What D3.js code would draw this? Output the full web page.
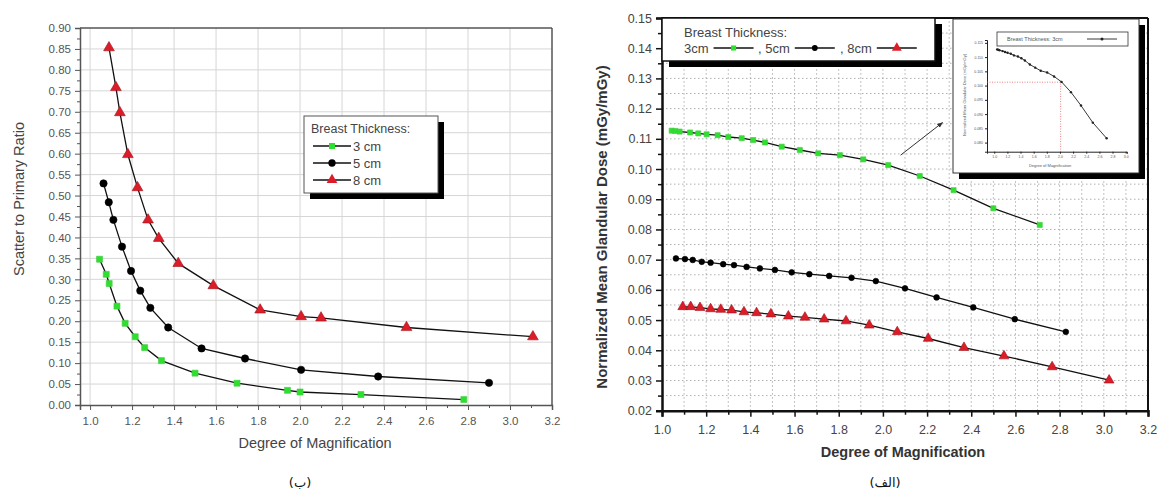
<!DOCTYPE html>
<html>
<head>
<meta charset="utf-8">
<script src="https://cdn.jsdelivr.net/npm/d3@7"></script>
<style>
body { margin: 0; background: #fff; }
svg { display: block; font-family: "Liberation Sans", Arial, sans-serif; }
</style>
</head>
<body>
<div id="chart"></div>
<script>
// ---- panel (ب): scatter to primary ratio vs magnification ----
var spr3cm = [[1.045,0.348],[1.077,0.312],[1.091,0.290],[1.128,0.236],[1.167,0.195],[1.215,0.163],[1.26,0.137],[1.34,0.106],[1.50,0.076],[1.70,0.052],[1.94,0.035],[2.00,0.031],[2.29,0.025],[2.78,0.013]];
var spr5cm = [[1.064,0.529],[1.089,0.484],[1.111,0.442],[1.152,0.378],[1.195,0.320],[1.239,0.273],[1.287,0.232],[1.372,0.185],[1.531,0.135],[1.738,0.111],[2.005,0.084],[2.372,0.068],[2.90,0.053]];
var spr8cm = [[1.09,0.853],[1.123,0.758],[1.142,0.698],[1.18,0.598],[1.226,0.519],[1.276,0.442],[1.327,0.398],[1.42,0.338],[1.587,0.285],[1.81,0.227],[2.005,0.211],[2.10,0.208],[2.507,0.185],[3.109,0.163]];

// ---- panel (الف): normalized mean glandular dose vs magnification ----
var mgd3cm = [[1.044,0.1127],[1.06,0.1126],[1.08,0.1124],[1.127,0.1121],[1.164,0.1118],[1.202,0.1115],[1.252,0.1112],[1.300,0.1106],[1.361,0.1102],[1.413,0.1096],[1.466,0.1088],[1.542,0.1074],[1.624,0.1063],[1.707,0.1052],[1.805,0.1046],[1.911,0.1032],[2.024,0.1013],[2.167,0.0977],[2.32,0.0930],[2.50,0.0870],[2.71,0.0815]];
var mgd5cm = [[1.063,0.0704],[1.104,0.0702],[1.139,0.0699],[1.180,0.0693],[1.220,0.0690],[1.277,0.0685],[1.326,0.0682],[1.383,0.0676],[1.443,0.0671],[1.511,0.0666],[1.587,0.0658],[1.667,0.0652],[1.757,0.0646],[1.858,0.0640],[1.968,0.0629],[2.10,0.0605],[2.243,0.0575],[2.409,0.0542],[2.597,0.0503],[2.828,0.0461]];
var mgd8cm = [[1.094,0.0544],[1.130,0.0544],[1.172,0.0541],[1.220,0.0537],[1.266,0.0535],[1.315,0.0533],[1.371,0.0527],[1.428,0.0524],[1.493,0.0520],[1.572,0.0513],[1.647,0.0509],[1.734,0.0503],[1.833,0.0497],[1.938,0.0483],[2.065,0.0461],[2.205,0.0439],[2.367,0.0409],[2.548,0.0381],[2.766,0.0345],[3.024,0.0301]];

var legendLabelsLeft = ["3 cm", "5 cm", "8 cm"];
var legendLabelsRight = ["3cm", ", 5cm", ", 8cm"];
var seriesColors = ["#2ee02e", "#000000", "#dd1c2a"];
var captions = ["(ب)", "(الف)"];

// knee point marked in the inset, and arrow end points (data units)
var insetKnee = [2.01, 0.1012];
var arrowFromTo = [[2.08, 0.1046], [2.27, 0.1154]];

var width = 1161, height = 495;
var svg = d3.select("#chart").append("svg")
    .attr("width", width)
    .attr("height", height);

var defs = svg.append("defs");
defs.append("marker")
    .attr("id", "arrowhead")
    .attr("viewBox", "0 0 10 10")
    .attr("refX", 9).attr("refY", 5)
    .attr("markerWidth", 6).attr("markerHeight", 6)
    .attr("orient", "auto")
    .append("path")
    .attr("d", "M0,1 L10,5 L0,9 z")
    .attr("fill", "#333");

var symbolTypes = [d3.symbolSquare, d3.symbolCircle, d3.symbolTriangle];

function drawSeries(g, data, x, y, i, sizes) {
    var line = d3.line().x(function(d) { return x(d[0]); }).y(function(d) { return y(d[1]); });
    g.append("path")
        .datum(data)
        .attr("d", line)
        .attr("fill", "none")
        .attr("stroke", "#111")
        .attr("stroke-width", 1.3);
    g.selectAll("path.pt" + i)
        .data(data)
        .enter().append("path")
        .attr("class", "pt" + i)
        .attr("transform", function(d) { return "translate(" + x(d[0]) + "," + y(d[1]) + ")"; })
        .attr("d", d3.symbol().type(symbolTypes[i]).size(sizes[i]))
        .attr("fill", seriesColors[i])
        .attr("stroke", i === 2 ? "#a01018" : (i === 0 ? "#44c844" : "#000"))
        .attr("stroke-width", 0.6);
}

// ================= LEFT PANEL =================
var lx = d3.scaleLinear().domain([0.952, 3.2]).range([80, 552]);
var ly = d3.scaleLinear().domain([0, 0.9]).range([405, 28]);
var left = svg.append("g");

// grid
left.selectAll("line.vgrid")
    .data(d3.range(1.0, 3.01, 0.2))
    .enter().append("line")
    .attr("x1", function(d) { return lx(d); }).attr("x2", function(d) { return lx(d); })
    .attr("y1", ly(0)).attr("y2", ly(0.9))
    .attr("stroke", "#d6d6d6").attr("stroke-width", 1);
left.selectAll("line.hgrid")
    .data(d3.range(0.05, 0.86, 0.05))
    .enter().append("line")
    .attr("x1", lx.range()[0]).attr("x2", lx.range()[1])
    .attr("y1", function(d) { return ly(d); }).attr("y2", function(d) { return ly(d); })
    .attr("stroke", "#d6d6d6").attr("stroke-width", 1);

// frame top/right
left.append("line").attr("x1", lx.range()[0]).attr("x2", lx.range()[1]).attr("y1", ly(0.9)).attr("y2", ly(0.9))
    .attr("stroke", "#555").attr("stroke-width", 1.5);
left.append("line").attr("x1", lx.range()[1]).attr("x2", lx.range()[1]).attr("y1", ly(0.9)).attr("y2", ly(0))
    .attr("stroke", "#555").attr("stroke-width", 1.5);

// axes
left.append("g").attr("transform", "translate(0," + ly(0) + ")")
    .call(d3.axisBottom(lx).tickValues(d3.range(1.0, 3.21, 0.2)).tickFormat(d3.format(".1f")).tickSize(5).tickPadding(7));
left.append("g").attr("transform", "translate(0," + ly(0) + ")")
    .call(d3.axisBottom(lx).tickValues(d3.range(1.1, 3.2, 0.2)).tickFormat("").tickSize(3))
    .select(".domain").remove();
left.append("g").attr("transform", "translate(" + lx.range()[0] + ",0)")
    .call(d3.axisLeft(ly).tickValues(d3.range(0, 0.91, 0.05)).tickFormat(d3.format(".2f")).tickSize(5).tickPadding(4));
left.append("g").attr("transform", "translate(" + lx.range()[0] + ",0)")
    .call(d3.axisLeft(ly).tickValues(d3.range(0.025, 0.9, 0.05)).tickFormat("").tickSize(3))
    .select(".domain").remove();
left.selectAll(".domain").attr("stroke", "#555").attr("stroke-width", 1.5);
left.selectAll(".tick line").attr("stroke", "#555");
left.selectAll(".tick text").attr("fill", "#555").style("font-size", "11.5px");

var leftSizes = [36, 42, 50];
drawSeries(left, spr3cm, lx, ly, 0, leftSizes);
drawSeries(left, spr5cm, lx, ly, 1, leftSizes);
drawSeries(left, spr8cm, lx, ly, 2, leftSizes);

left.append("text")
    .attr("x", 315).attr("y", 448)
    .attr("text-anchor", "middle")
    .attr("fill", "#444")
    .style("font-size", "14.5px")
    .text("Degree of Magnification");
left.append("text")
    .attr("transform", "translate(24,199) rotate(-90)")
    .attr("text-anchor", "middle")
    .attr("fill", "#444")
    .style("font-size", "14.5px")
    .text("Scatter to Primary Ratio");

// legend
var lleg = left.append("g").attr("transform", "translate(304,116)");
lleg.append("rect").attr("x", 6).attr("y", 6).attr("width", 134).attr("height", 77).attr("fill", "#000");
lleg.append("rect").attr("width", 134).attr("height", 77).attr("fill", "#fff").attr("stroke", "#555");
lleg.append("text").attr("x", 7).attr("y", 17).attr("fill", "#444").style("font-size", "12.5px").text("Breast Thickness:");
legendLabelsLeft.forEach(function(lab, i) {
    var yy = 30 + i * 17;
    lleg.append("line").attr("x1", 9).attr("x2", 47).attr("y1", yy).attr("y2", yy).attr("stroke", "#111").attr("stroke-width", 1.3);
    lleg.append("path")
        .attr("transform", "translate(28," + yy + ")")
        .attr("d", d3.symbol().type(symbolTypes[i]).size(leftSizes[i]))
        .attr("fill", seriesColors[i]);
    lleg.append("text").attr("x", 49).attr("y", yy + 5).attr("fill", "#444").style("font-size", "13px").text(lab);
});

// ================= RIGHT PANEL =================
var rx = d3.scaleLinear().domain([1.0, 3.2]).range([662, 1148]);
var ry = d3.scaleLinear().domain([0.02, 0.15]).range([410.7, 18]);
var right = svg.append("g");

right.selectAll("line.vgrid")
    .data(d3.range(1.1, 3.15, 0.1))
    .enter().append("line")
    .attr("x1", function(d) { return rx(d); }).attr("x2", function(d) { return rx(d); })
    .attr("y1", ry(0.02)).attr("y2", ry(0.15))
    .attr("stroke", "#9a9a9a").attr("stroke-width", 0.8).attr("stroke-dasharray", "1.5,2.5");
right.selectAll("line.hgrid")
    .data(d3.range(0.025, 0.1451, 0.005))
    .enter().append("line")
    .attr("x1", rx.range()[0]).attr("x2", rx.range()[1])
    .attr("y1", function(d) { return ry(d); }).attr("y2", function(d) { return ry(d); })
    .attr("stroke", "#9a9a9a").attr("stroke-width", 0.8).attr("stroke-dasharray", "1.5,2.5");

right.append("line").attr("x1", rx.range()[0]).attr("x2", rx.range()[1]).attr("y1", ry(0.15)).attr("y2", ry(0.15))
    .attr("stroke", "#111").attr("stroke-width", 2);
right.append("line").attr("x1", rx.range()[1]).attr("x2", rx.range()[1]).attr("y1", ry(0.15)).attr("y2", ry(0.02))
    .attr("stroke", "#111").attr("stroke-width", 2);

right.append("g").attr("transform", "translate(0," + ry(0.02) + ")")
    .call(d3.axisBottom(rx).tickValues(d3.range(1.0, 3.21, 0.2)).tickFormat(d3.format(".1f")).tickSize(6).tickPadding(8));
right.append("g").attr("transform", "translate(0," + ry(0.02) + ")")
    .call(d3.axisBottom(rx).tickValues(d3.range(1.1, 3.2, 0.2)).tickFormat("").tickSize(4))
    .select(".domain").remove();
right.append("g").attr("transform", "translate(" + rx.range()[0] + ",0)")
    .call(d3.axisLeft(ry).tickValues(d3.range(0.02, 0.1501, 0.01)).tickFormat(d3.format(".2f")).tickSize(6).tickPadding(4));
right.append("g").attr("transform", "translate(" + rx.range()[0] + ",0)")
    .call(d3.axisLeft(ry).tickValues(d3.range(0.025, 0.15, 0.01)).tickFormat("").tickSize(4))
    .select(".domain").remove();
right.selectAll(".domain").attr("stroke", "#111").attr("stroke-width", 2.5);
right.selectAll(".tick line").attr("stroke", "#111").attr("stroke-width", 1.5);
right.selectAll(".tick text").attr("fill", "#444").style("font-size", "12.5px");

var rightSizes = [26, 26, 42];
drawSeries(right, mgd3cm, rx, ry, 0, rightSizes);
drawSeries(right, mgd5cm, rx, ry, 1, rightSizes);
drawSeries(right, mgd8cm, rx, ry, 2, rightSizes);

right.append("text")
    .attr("x", 903).attr("y", 457)
    .attr("text-anchor", "middle")
    .attr("fill", "#333")
    .style("font-size", "14.5px")
    .style("font-weight", "bold")
    .text("Degree of Magnification");
right.append("text")
    .attr("transform", "translate(607,227) rotate(-90)")
    .attr("text-anchor", "middle")
    .attr("fill", "#333")
    .style("font-size", "15px")
    .style("font-weight", "bold")
    .text("Normalized Mean Glandular Dose (mGy/mGy)");

// legend at top
var rleg = right.append("g").attr("transform", "translate(662,18)");
rleg.append("rect").attr("x", 7).attr("y", 6).attr("width", 273).attr("height", 43).attr("fill", "#000");
rleg.append("rect").attr("width", 273).attr("height", 43).attr("fill", "#fff").attr("stroke", "#111").attr("stroke-width", 1.5);
rleg.append("text").attr("x", 22).attr("y", 19).attr("fill", "#444").style("font-size", "13px").text("Breast Thickness:");
var legItemX = [22, 96, 178];
legendLabelsRight.forEach(function(lab, i) {
    var t = rleg.append("text").attr("x", legItemX[i]).attr("y", 35).attr("fill", "#444").style("font-size", "13px").text(lab);
    var x0 = legItemX[i] + t.node().getComputedTextLength() + 5;
    rleg.append("line").attr("x1", x0).attr("x2", x0 + 40).attr("y1", 30).attr("y2", 30).attr("stroke", "#111").attr("stroke-width", 1.3);
    rleg.append("path")
        .attr("transform", "translate(" + (x0 + 20) + ",30)")
        .attr("d", d3.symbol().type(symbolTypes[i]).size(rightSizes[i]))
        .attr("fill", seriesColors[i]);
});

// arrow to inset
right.append("line")
    .attr("x1", rx(arrowFromTo[0][0])).attr("y1", ry(arrowFromTo[0][1]))
    .attr("x2", rx(arrowFromTo[1][0])).attr("y2", ry(arrowFromTo[1][1]))
    .attr("stroke", "#333").attr("stroke-width", 1)
    .attr("marker-end", "url(#arrowhead)");

// ---- inset: 3 cm curve with knee ----
var inset = right.append("g");
inset.append("rect").attr("x", 959).attr("y", 25).attr("width", 186).attr("height", 154).attr("fill", "#000");
inset.append("rect").attr("x", 953).attr("y", 19).attr("width", 186).attr("height", 154).attr("fill", "#fff").attr("stroke", "#333").attr("stroke-width", 1);
var ix = d3.scaleLinear().domain([0.89, 3.02]).range([987, 1127]);
var iy = d3.scaleLinear().domain([0.0768, 0.116]).range([151.7, 40]);

inset.append("g").attr("transform", "translate(0," + iy.range()[0] + ")")
    .call(d3.axisBottom(ix).tickValues(d3.range(1.0, 3.01, 0.2)).tickFormat(d3.format(".1f")).tickSize(2).tickPadding(2));
inset.append("g").attr("transform", "translate(" + ix.range()[0] + ",0)")
    .call(d3.axisLeft(iy).tickValues(d3.range(0.080, 0.1151, 0.005)).tickFormat(d3.format(".3f")).tickSize(2).tickPadding(2));
inset.selectAll(".domain").attr("stroke", "#222").attr("stroke-width", 1);
inset.selectAll(".tick line").attr("stroke", "#222");
inset.selectAll(".tick text").attr("fill", "#555").style("font-size", "3.5px");

inset.append("path")
    .attr("d", "M" + ix.range()[0] + "," + iy(insetKnee[1]) + "H" + ix(insetKnee[0]) + "V" + iy.range()[0])
    .attr("fill", "none").attr("stroke", "#e05050").attr("stroke-width", 0.7).attr("stroke-dasharray", "1,1.5");

inset.append("path")
    .datum(mgd3cm)
    .attr("d", d3.line().x(function(d) { return ix(d[0]); }).y(function(d) { return iy(d[1]); }))
    .attr("fill", "none").attr("stroke", "#222").attr("stroke-width", 0.9);
inset.selectAll("circle.ipt")
    .data(mgd3cm)
    .enter().append("circle")
    .attr("class", "ipt")
    .attr("cx", function(d) { return ix(d[0]); })
    .attr("cy", function(d) { return iy(d[1]); })
    .attr("r", 1.2)
    .attr("fill", "#222");

inset.append("text").attr("x", 1050).attr("y", 167).attr("text-anchor", "middle")
    .attr("fill", "#555").style("font-size", "4px").text("Degree of Magnification");
inset.append("text").attr("transform", "translate(966,95) rotate(-90)").attr("text-anchor", "middle")
    .attr("fill", "#555").style("font-size", "4px").text("Normalized Mean Glandular Dose (mGy/mGy)");

var ileg = inset.append("g").attr("transform", "translate(997,32)");
ileg.append("rect").attr("width", 131).attr("height", 14).attr("fill", "#fff").attr("stroke", "#333").attr("stroke-width", 0.8);
ileg.append("text").attr("x", 10).attr("y", 9).attr("fill", "#555").style("font-size", "5.5px").text("Breast Thickness: 3cm");
ileg.append("line").attr("x1", 90).attr("x2", 120).attr("y1", 7).attr("y2", 7).attr("stroke", "#222").attr("stroke-width", 0.9);
ileg.append("circle").attr("cx", 105).attr("cy", 7).attr("r", 1.5).attr("fill", "#222");

// ================= CAPTIONS =================
svg.selectAll("text.caption")
    .data(captions)
    .enter().append("text")
    .attr("class", "caption")
    .attr("x", function(d, i) { return i === 0 ? 300 : 885; })
    .attr("y", 487)
    .attr("text-anchor", "middle")
    .attr("fill", "#111")
    .style("font-family", "'DejaVu Sans', sans-serif")
    .style("font-size", "13px")
    .text(function(d) { return d; });
</script>
</body>
</html>
